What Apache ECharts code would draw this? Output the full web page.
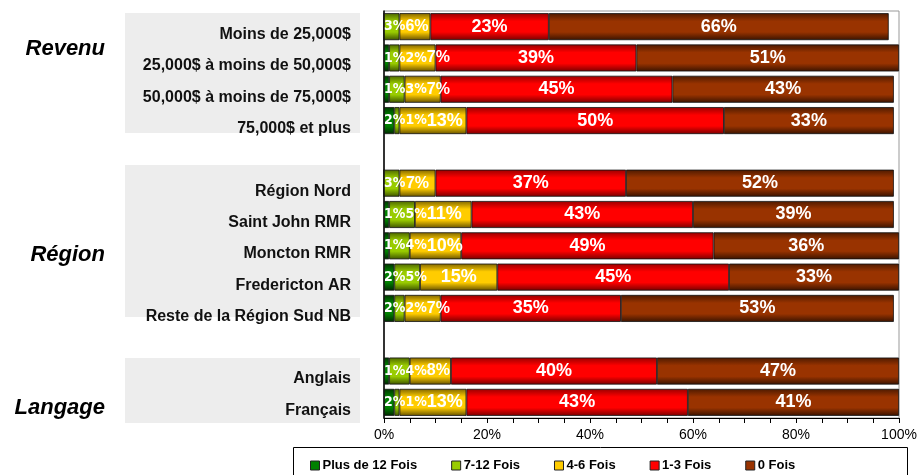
<!DOCTYPE html>
<html>
<head>
<meta charset="utf-8">
<script src="https://cdn.jsdelivr.net/npm/echarts@6/dist/echarts.min.js"></script>
<style>
  html, body { margin: 0; padding: 0; background: #fff; }
  #chart { width: 921px; height: 475px; }
</style>
</head>
<body>
<div id="chart"></div>
<script>
// rows (blank entries are the gaps between groups)
const categories = [
  'Moins de 25,000$', '25,000$ à moins de 50,000$', '50,000$ à moins de 75,000$', '75,000$ et plus',
  ' ',
  'Région Nord', 'Saint John RMR', 'Moncton RMR', 'Fredericton AR', 'Reste de la Région Sud NB',
  '  ',
  'Anglais', 'Français'
];
const seriesNames = ['Plus de 12 Fois', '7-12 Fois', '4-6 Fois', '1-3 Fois', '0 Fois'];
const plus12 = [0, 1, 1, 2, null, 0, 1, 1, 2, 2, null, 1, 2];
const fois7to12 = [3, 2, 3, 1, null, 3, 5, 4, 5, 2, null, 4, 1];
const fois4to6 = [6, 7, 7, 13, null, 7, 11, 10, 15, 7, null, 8, 13];
const fois1to3 = [23, 39, 45, 50, null, 37, 43, 49, 45, 35, null, 40, 43];
const fois0 = [66, 51, 43, 33, null, 52, 39, 36, 33, 53, null, 47, 41];
const groupNames = ['Revenu', 'Région', 'Langage'];

// [top dark, bright middle, bottom dark]
const palette = [
  ['#003300', '#008000', '#002600'],
  ['#4d6600', '#99cc00', '#3d5200'],
  ['#806600', '#ffcc00', '#665200'],
  ['#990000', '#ff0000', '#7a0000'],
  ['#4d1a00', '#993300', '#3a1300']
];

const chart = echarts.init(document.getElementById('chart'));

function grad(c) {
  return new echarts.graphic.LinearGradient(0, 0, 0, 1, [
    { offset: 0, color: c[0] },
    { offset: 0.3, color: c[1] },
    { offset: 0.7, color: c[1] },
    { offset: 1, color: c[2] }
  ]);
}

function labelFor(v) {
  if (v >= 10) return { fontSize: 18, fontFamily: 'Liberation Sans' };
  if (v >= 6) return { fontSize: 16, fontFamily: 'Liberation Sans' };
  return { fontSize: 14, fontFamily: '"Liberation Sans Narrow", "DejaVu Sans Condensed", "Liberation Sans"' };
}

const allData = [plus12, fois7to12, fois4to6, fois1to3, fois0];
const rowState = {};

const series = allData.map((arr, i) => ({
  name: seriesNames[i],
  type: 'bar',
  stack: 'total',
  barWidth: 27,
  data: arr.map(v => v === null ? null : {
    value: v,
    label: Object.assign({}, labelFor(v))
  }),
  itemStyle: {
    color: grad(palette[i]),
    borderColor: '#111',
    borderWidth: 0.8
  },
  label: {
    show: true,
    position: 'inside',
    color: '#fff',
    fontWeight: 'bold',
    formatter: p => (p.value ? Math.round(p.value) + '%' : '')
  },
  // keep small labels inside the plot and side by side, left to right
  labelLayout: params => {
    const key = params.dataIndex;
    const prev = rowState[key];
    if (!prev || prev.s >= params.seriesIndex) rowState[key] = { s: params.seriesIndex, right: 384 };
    const st = rowState[key];
    const r = params.labelRect;
    let dx = 0;
    if (r.width > 0 && r.x < st.right) dx = st.right - r.x;
    st.s = params.seriesIndex;
    if (r.width > 0) st.right = r.x + dx + r.width;
    return { dx: dx };
  }
}));

const groupLabelStyle = { fill: '#000', font: 'italic bold 22px "Liberation Sans", Arial', textAlign: 'right', textVerticalAlign: 'middle' };

const option = {
  animation: false,
  backgroundColor: '#fff',
  grid: {
    left: 384, right: 22, top: 11, bottom: 57,
    show: true, borderColor: '#999', borderWidth: 1, backgroundColor: '#fff'
  },
  xAxis: {
    type: 'value',
    min: 0, max: 100, interval: 20,
    axisLine: { show: true, lineStyle: { color: '#000', width: 1 } },
    axisTick: { show: true, length: 5, lineStyle: { color: '#000' } },
    minorTick: { show: true, splitNumber: 4, length: 5, lineStyle: { color: '#000' } },
    splitLine: { show: false },
    axisLabel: { color: '#000', fontSize: 14, fontFamily: 'Liberation Sans', margin: 10, formatter: '{value}%' }
  },
  yAxis: {
    type: 'category',
    inverse: true,
    data: categories,
    axisLine: { show: true, lineStyle: { color: '#000', width: 1.5 } },
    axisTick: { show: false },
    axisLabel: {
      color: '#111', fontSize: 16, fontWeight: 'bold', fontFamily: 'Liberation Sans',
      margin: 33, verticalAlign: 'top', lineHeight: 16
    }
  },
  legend: {
    left: 305, top: 454,
    itemWidth: 9, itemHeight: 9, itemGap: 34,
    icon: 'rect',
    data: seriesNames.map((n, i) => ({ name: n, itemStyle: { color: palette[i][1], borderColor: '#222', borderWidth: 1 } })),
    textStyle: { color: '#000', fontSize: 13, fontWeight: 'bold', fontFamily: 'Liberation Sans', padding: [0, 0, 0, -2] }
  },
  graphic: [
    { type: 'rect', z: -1, shape: { x: 125, y: 13, width: 235, height: 120 }, style: { fill: '#ededed' } },
    { type: 'rect', z: -1, shape: { x: 125, y: 165, width: 235, height: 152 }, style: { fill: '#ededed' } },
    { type: 'rect', z: -1, shape: { x: 125, y: 358, width: 235, height: 65 }, style: { fill: '#ededed' } },
    { type: 'text', x: 105, y: 49, style: Object.assign({ text: groupNames[0] }, groupLabelStyle) },
    { type: 'text', x: 105, y: 255, style: Object.assign({ text: groupNames[1] }, groupLabelStyle) },
    { type: 'text', x: 105, y: 408, style: Object.assign({ text: groupNames[2] }, groupLabelStyle) },
    { type: 'rect', shape: { x: 293.5, y: 447.5, width: 614, height: 40 }, style: { fill: 'none', stroke: '#000', lineWidth: 1 } }
  ],
  series
};

chart.setOption(option);
</script>
</body>
</html>
